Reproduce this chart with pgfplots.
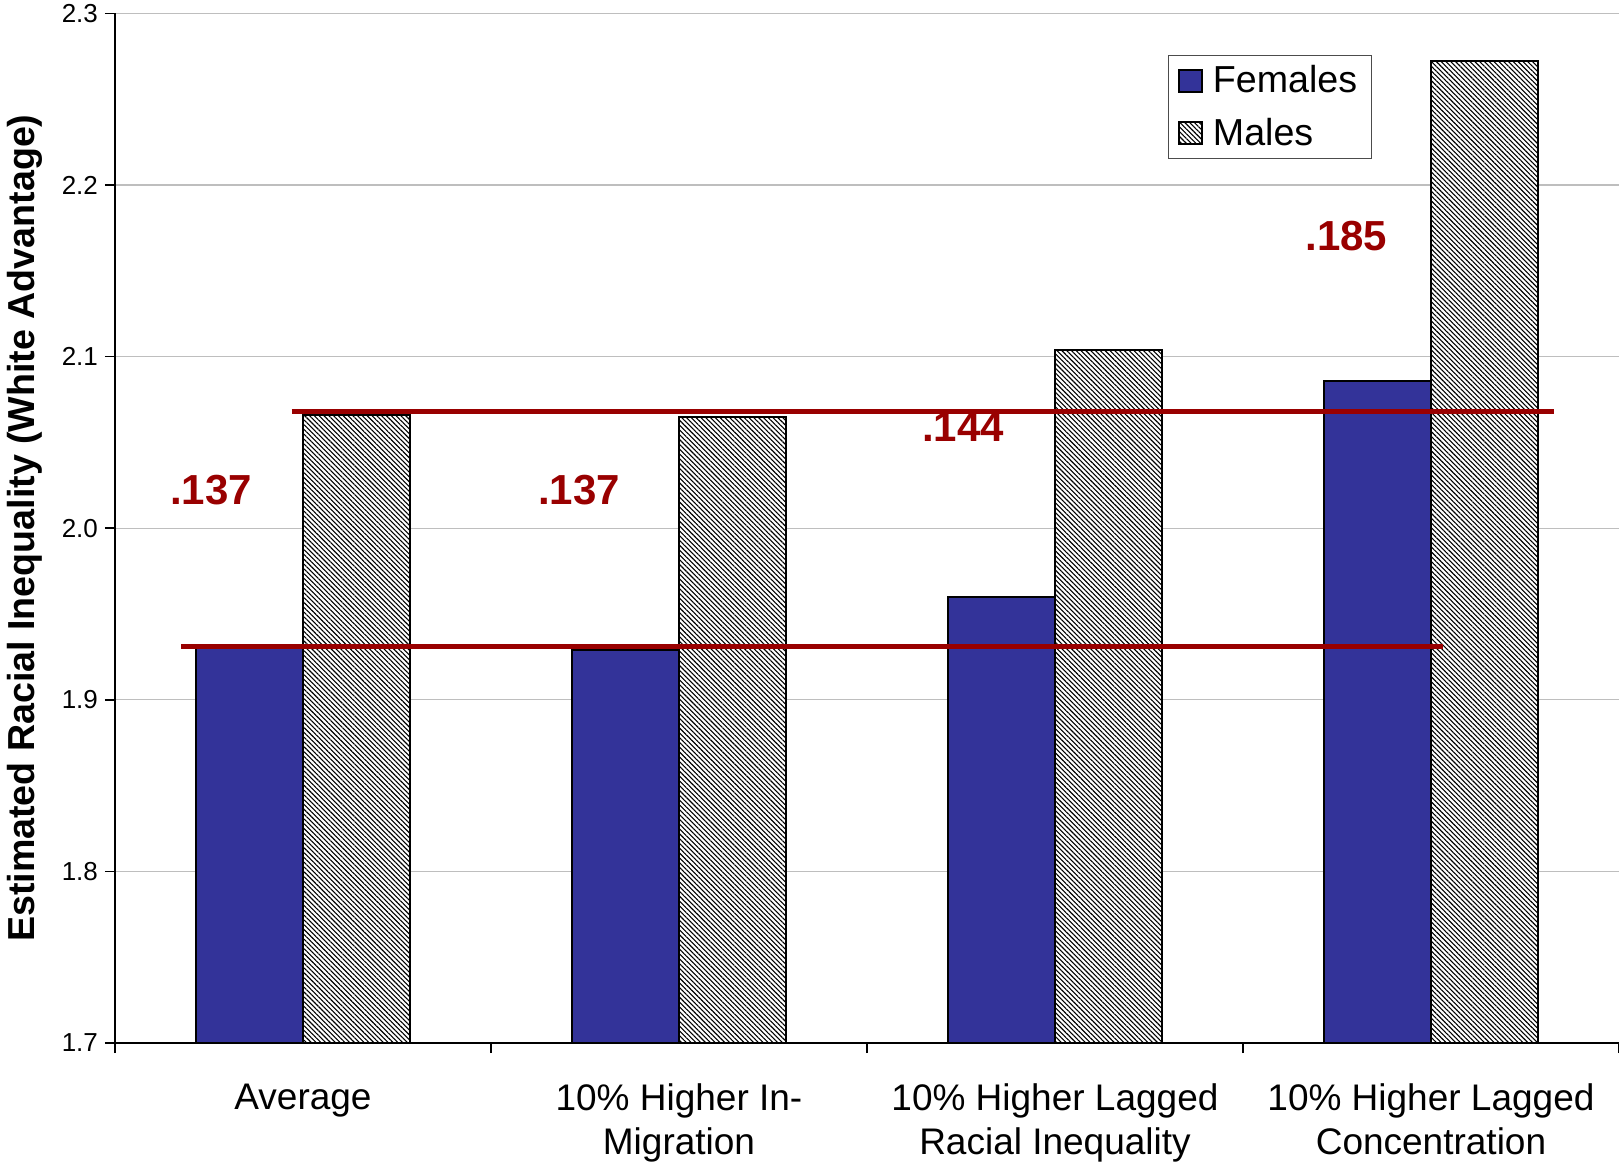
\documentclass[border=0pt]{standalone}
\usepackage{fontspec}
\setmainfont{Liberation Sans}
\usepackage{pgfplots}
\pgfplotsset{compat=1.18}
\usetikzlibrary{patterns.meta}
\definecolor{fem}{RGB}{51,51,153}
\definecolor{dred}{RGB}{153,0,0}
\definecolor{gridc}{RGB}{190,190,190}
\begin{document}
\begin{tikzpicture}
\useasboundingbox (-57.5pt,-60.5pt) rectangle (752pt,521.5pt);
\begin{axis}[
  scale only axis, width=752pt, height=514.8pt,
  at={(0,0)}, anchor=south west,
  ymin=1.7, ymax=2.3, xmin=-0.5, xmax=3.5,
  ytick={1.7,1.8,1.9,2.0,2.1,2.2,2.3},
  yticklabels={1.7,1.8,1.9,2.0,2.1,2.2,2.3},
  xtick={-0.5,0.5,1.5,2.5,3.5},
  x tick label as interval,
  xticklabels={Average,{10\% Higher In-\\Migration},{10\% Higher Lagged\\Racial Inequality},{10\% Higher Lagged\\Concentration}},
  xticklabel style={align=center, font=\fontsize{18.5}{21.6}\selectfont, anchor=north, yshift=-12pt},
  yticklabel style={font=\fontsize{13}{15}\selectfont},
  axis x line*=bottom, axis y line*=left,
  axis line style={black, line width=0.8pt},
  tick align=outside,
  major tick length=5pt,
  tick style={black, line width=0.8pt},
  ymajorgrids, grid style={gridc, line width=0.6pt},
  ylabel={Estimated Racial Inequality (White Advantage)},
  ylabel style={font=\fontsize{18.8}{22}\selectfont\bfseries, at={(axis description cs:-0.0598,0.5)}, anchor=center},
  ybar, bar width=0.2857,
  legend style={at={(0.700,0.9596)}, anchor=north west, draw=black!70, line width=0.6pt,
    font=\fontsize{18.8}{22}\selectfont, row sep=7pt, inner xsep=5pt, inner ysep=3pt},
  legend cell align=left,
  legend image code/.code={\draw[#1, line width=0.8pt] (0pt,-5.5pt) rectangle (11.5pt,5.5pt);},
]
\addplot[fill=fem, draw=black, line width=1pt, bar shift=-0.14285]
  coordinates {(0,1.930) (1,1.929) (2,1.960) (3,2.086)};
\addlegendentry{\hspace{3pt}Females}
\addplot[preaction={fill=white}, pattern={Lines[angle=-45,distance=1.7pt,line width=0.55pt]}, pattern color=black, draw=black, line width=1pt, bar shift=0.14285]
  coordinates {(0,2.066) (1,2.065) (2,2.104) (3,2.272)};
\addlegendentry{\hspace{3pt}Males}
\addplot[ybar=false, sharp plot, draw=dred, line width=2.4pt, forget plot] coordinates {(-0.03,2.068) (3.327,2.068)};
\addplot[ybar=false, sharp plot, draw=dred, line width=2.4pt, forget plot] coordinates {(-0.324,1.931) (3.033,1.931)};
\node[font=\fontsize{21}{25}\selectfont\bfseries, text=dred] at (axis cs:-0.245,2.022) {.137};
\node[font=\fontsize{21}{25}\selectfont\bfseries, text=dred] at (axis cs:0.734,2.022) {.137};
\node[font=\fontsize{21}{25}\selectfont\bfseries, text=dred] at (axis cs:1.755,2.059) {.144};
\node[font=\fontsize{21}{25}\selectfont\bfseries, text=dred] at (axis cs:2.775,2.1705) {.185};
\end{axis}
\end{tikzpicture}
\end{document}
